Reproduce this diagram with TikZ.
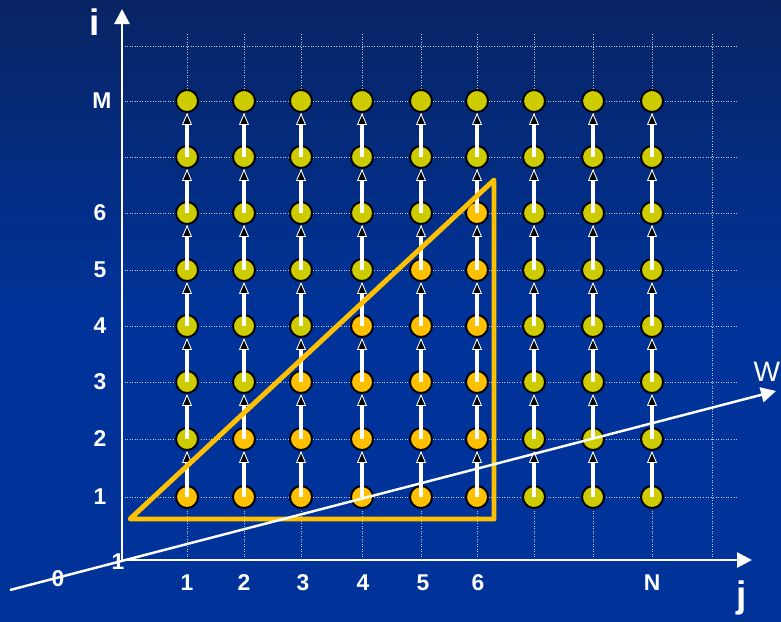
\documentclass[tikz,border=0pt]{standalone}
\usepackage{fontspec}
\setmainfont{Liberation Sans}
\usetikzlibrary{arrows.meta}
\definecolor{slidetop}{RGB}{8,36,100}
\definecolor{slidebase}{RGB}{0,51,153}
\definecolor{dotgreen}{RGB}{204,204,0}
\definecolor{dotorange}{RGB}{255,192,0}

\begin{document}
\begin{tikzpicture}[x=0.2mm,y=-0.2mm,
        dot/.style={circle,draw=black,line width=1.1pt,minimum size=4.4mm,inner sep=0pt,fill=dotgreen},
        hot/.style={dot,fill=dotorange},
        gridline/.style={white!75!slidebase,densely dotted,line width=0.45pt},
        axis/.style={white,line width=1.6pt,-{Triangle[length=3mm,width=3mm]}},
        dep/.style={white,line width=2pt,-{Triangle[length=2.4mm,width=2mm,fill=black,line width=0.5pt]}},
        tick/.style={text=white,font=\bfseries\fontsize{13}{15}\selectfont,inner sep=0pt},
        axlabel/.style={text=white,font=\bfseries\fontsize{21}{24}\selectfont,inner sep=0pt}]
    \useasboundingbox (0,0) rectangle (781,621);
    \shade[top color=slidetop,bottom color=slidebase,middle color=slidebase] (0,0) rectangle (781,621);

    % grid
    \foreach \py in {497,439,382,326,270,213,157,101,46}
        \draw[gridline] (122,\py) -- (738,\py);
    \foreach \px in {187,244,301,362,421,477,534,593,652,712}
        \draw[gridline] (\px,34) -- (\px,560);

    % iteration points
    \foreach \px [count=\j] in {187,244,301,362,421,477,534,593,652}{
        \foreach \py [count=\i] in {497,439,382,326,270,213,157,101}{
            \def\dotstyle{dot}
            \ifnum\j<7 \ifnum\i<\numexpr\j+1\relax \def\dotstyle{hot}\fi\fi
            \node[\dotstyle] (c\j-\i) at (\px,\py) {};
        }
    }

    % dependences
    \foreach \j in {1,...,9}{
        \foreach \i [evaluate=\i as \k using int(\i+1)] in {1,...,7}
            \draw[dep] (c\j-\i.center) -- (c\j-\k);
    }

    % triangle
    \coordinate (t1) at (130,519);
    \coordinate (t2) at (494,180);
    \coordinate (t3) at (494,519);
    \draw[dotorange,line width=2.8pt,line join=round] (t1) -- (t2) -- (t3) -- cycle;

    % axes
    \coordinate (o) at (122,560);
    \coordinate (itop) at (122,9);
    \coordinate (jend) at (752,560);
    \coordinate (w0) at (10,590);
    \coordinate (w1) at (776,391);
    \draw[axis] (o) -- (itop);
    \draw[axis] (o) -- (jend);
    \draw[axis,line width=1.4pt] (w0) -- (w1);

    \node[axlabel] (lbl-i) at (95,22) {i};
    \node[axlabel] (lbl-j) at (742,598) {j};
    \node[text=white,font=\fontsize{16}{18}\selectfont,inner sep=0pt] (lbl-w) at (767,372) {W};
    \node[tick] (lbl-w0) at (58,579) {0};
    \node[tick] (lbl-w1) at (118,562) {1};

    % row and column numbers
    \foreach \py/\t [count=\i] in {497/1,439/2,382/3,326/4,270/5,213/6}
        \node[tick] (row\i) at (100,\py) {\t};
    \node[tick] (rowM) at (102,101) {M};
    \foreach \px/\t [count=\j] in {187/1,244/2,303/3,363/4,423/5,478/6}
        \node[tick] (col\j) at (\px,583) {\t};
    \node[tick] (colN) at (652,583) {N};
\end{tikzpicture}
\end{document}
